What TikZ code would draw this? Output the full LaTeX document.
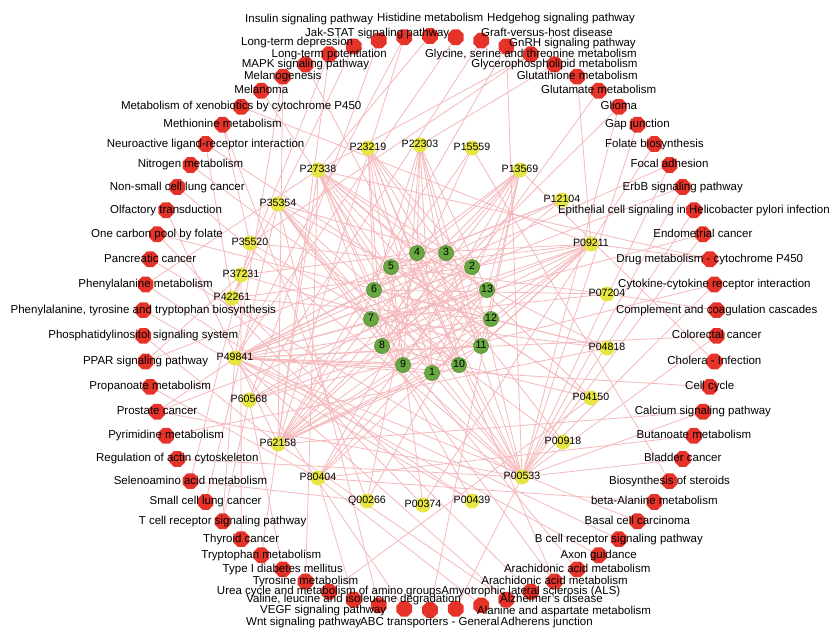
\documentclass[tikz,border=0pt]{standalone}
\usepackage{fontspec}
\setmainfont{Liberation Sans}
\usetikzlibrary{shapes.geometric}
\definecolor{nodered}{HTML}{E6332A}
\definecolor{nodeyellow}{HTML}{E6E642}
\definecolor{nodegreen}{HTML}{68A841}
\definecolor{greenborder}{HTML}{4F8C30}
\definecolor{edgepink}{HTML}{F5B9BC}
\begin{document}
\begin{tikzpicture}[x=1pt,y=-1pt,
  redn/.style={regular polygon, regular polygon sides=8, fill=nodered, draw=none, minimum size=17pt, inner sep=0pt},
  yel/.style={circle, fill=nodeyellow, draw=none, minimum size=15pt, inner sep=0pt},
  grn/.style={circle, fill=nodegreen, draw=greenborder, line width=0.6pt, minimum size=15pt, inner sep=0pt},
  lbl/.style={font=\fontsize{11.5}{12}\selectfont, inner sep=0pt, text height=8pt, text depth=2pt, text=black},
  plbl/.style={font=\fontsize{10.6}{12}\selectfont, inner sep=0pt, text height=7.6pt, text depth=2pt, text=black},
  lnk/.style={draw=edgepink, line width=0.8pt}]
\useasboundingbox[fill=white] (0,0) rectangle (840,635);

% outer ring coordinates
\foreach \i in {1,...,70}{
  \pgfmathsetmacro\angl{-90+(\i-1)*(360/70)}
  \coordinate (r\i) at ({430+287*cos(\angl)},{323-287*sin(\angl)});
}
% middle ring
\foreach \n/\x/\y in {P00374/423/505, P00439/472/501, P00533/522/477, P00918/563/442, P04150/591/398,
  P04818/607/348, P07204/607/294, P09211/591/244, P12104/562/200, P13569/520/170, P15559/472/148,
  P22303/420/145, P23219/368/148, P27338/318/170, P35354/278/204, P35520/250/243, P37231/241/275,
  P42261/232/298, P49841/235/358, P60568/249/400, P62158/278/444, P80404/318/478, Q00266/367/501}{
  \coordinate (\n) at (\x,\y);
}
% inner ring
\foreach \n/\x/\y in {1/432/373, 2/472/267, 3/446/253, 4/417/253, 5/391/267, 6/374/290, 7/371/319,
  8/382/346, 9/403/365, 10/459/365, 11/481/346, 12/491/319, 13/487/290}{
  \coordinate (g\n) at (\x,\y);
}

% connectors: inner to middle
\foreach \a/\b in {g1/P27338, g1/P22303, g1/P09211, g1/P49841, g1/P62158, g1/P13569, g1/P23219, g1/P35354,
  g2/P27338, g2/P49841, g2/P62158, g2/P00533, g2/P35520, g2/P60568, g2/P42261,
  g3/P22303, g3/P23219, g3/P62158, g3/P00533, g3/P80404, g3/P49841, g3/P04150,
  g4/P09211, g4/P00918, g4/P04818, g4/P00533, g4/Q00266, g4/P37231,
  g5/P09211, g5/P07204, g5/P04150, g5/P12104, g5/P00374, g5/P13569, g5/P15559,
  g6/P13569, g6/P04818, g6/P12104, g6/P00533, g6/P07204, g6/P23219, g6/P22303,
  g7/P13569, g7/P09211, g7/P07204, g7/P04818, g7/P27338, g7/P00439,
  g8/P22303, g8/P09211, g8/P13569, g8/P04150, g8/P12104, g8/P15559, g8/P23219,
  g9/P27338, g9/P22303, g9/P23219, g9/P13569, g9/P09211, g9/P35354,
  g10/P27338, g10/P22303, g10/P35354, g10/P49841, g10/P35520, g10/P62158, g10/P23219,
  g11/P27338, g11/P23219, g11/P22303, g11/P49841, g11/P62158, g11/P37231,
  g12/P49841, g12/P62158, g12/P27338, g12/P60568, g12/P35354, g12/P42261, g12/P80404,
  g13/P62158, g13/P49841, g13/P80404, g13/P22303, g13/P27338, g13/Q00266, g13/P60568,
  g1/P00533, g2/P09211, g3/P13569, g4/P27338, g5/P62158, g6/P49841, g7/P62158, g8/P00533,
  g9/P49841, g10/P09211, g11/P13569, g12/P09211, g13/P13569, g2/P23219, g3/P35354, g6/P27338,
  g9/P62158, g11/P09211, g4/P22303, g5/P49841}{
  \draw[lnk] (\a) -- (\b);
}
% connectors: outer to middle
\foreach \a/\b in {r1/P13569, r2/P00533, r3/P80404, r4/P49841, r4/P62158, r5/P42261, r6/P23219, r6/P35354,
  r7/P35354, r8/P49841, r9/P49841, r10/P49841, r11/P80404, r12/P15559, r13/P00533, r14/P80404,
  r15/P00533, r15/P62158, r16/P49841, r17/P13569, r18/P00533, r18/P49841, r19/P07204, r20/P00533,
  r20/P60568, r21/P09211, r21/P27338, r22/P00533, r22/P49841, r23/P00533, r24/P00533, r24/P49841,
  r25/P00533, r25/P49841, r26/P00374, r27/P00533, r28/P00533, r28/P62158, r29/P80404, r30/P09211,
  r31/P22303, r32/P27338, r32/P35520, r33/P00533, r33/P62158, r34/P60568, r35/P49841, r36/P27338,
  r37/P49841, r37/P62158, r38/P60568, r39/P42261, r40/P42261, r40/P62158, r41/P00533, r42/P62158,
  r42/P49841, r43/P00533, r44/P09211, r45/P35520, r45/Q00266, r46/P42261, r46/P04150, r47/P00918,
  r48/P00533, r49/P62158, r50/P00374, r50/P04818, r51/P00533, r52/P27338, r52/P00439, r53/P00439,
  r54/P62158, r55/P12104, r55/P37231, r56/P80404, r57/P00533, r57/P49841, r57/P09211, r58/P04818,
  r59/P00533, r60/P35520, r60/Q00266, r61/P35354, r62/P49841, r62/P60568, r63/P37231, r64/P27338,
  r65/P60568, r66/P27338, r67/P04150, r68/P80404, r69/P35354, r70/P49841}{
  \draw[lnk] (\a) -- (\b);
}

% nodes
\foreach \i in {1,...,70}{ \node[redn] (n\i) at (r\i) {}; }
\foreach \n in {P00374, P00439, P00533, P00918, P04150, P04818, P07204, P09211, P12104, P13569, P15559,
  P22303, P23219, P27338, P35354, P35520, P37231, P42261, P49841, P60568, P62158, P80404, Q00266}{
  \node[yel] (y\n) at (\n) {};
  \node[plbl] at (\n) {\n};
}
\foreach \n in {1,...,13}{ \node[grn] (gn\n) at (g\n) {}; \node[plbl] at (g\n) {\n}; }

% outer labels centred on their nodes
\foreach \i/\t in {5/{Amyotrophic lateral sclerosis (ALS)}, 6/{Arachidonic acid metabolism},
  7/{Arachidonic acid metabolism}, 8/{Axon guidance}, 9/{B cell receptor signaling pathway},
  10/{Basal cell carcinoma}, 11/{beta-Alanine metabolism}, 12/{Biosynthesis of steroids},
  13/{Bladder cancer}, 14/{Butanoate metabolism}, 15/{Calcium signaling pathway}, 16/{Cell cycle},
  17/{Cholera - Infection}, 18/{Colorectal cancer}, 19/{Complement and coagulation cascades},
  20/{Cytokine-cytokine receptor interaction}, 21/{Drug metabolism - cytochrome P450},
  22/{Endometrial cancer}, 23/{Epithelial cell signaling in Helicobacter pylori infection},
  24/{ErbB signaling pathway}, 25/{Focal adhesion}, 26/{Folate biosynthesis}, 27/{Gap junction},
  28/{Glioma}, 29/{Glutamate metabolism}, 30/{Glutathione metabolism},
  31/{Glycerophospholipid metabolism}, 32/{Glycine, serine and threonine metabolism},
  40/{Long-term potentiation}, 41/{MAPK signaling pathway}, 42/{Melanogenesis}, 43/{Melanoma},
  44/{Metabolism of xenobiotics by cytochrome P450}, 45/{Methionine metabolism},
  46/{Neuroactive ligand-receptor interaction}, 47/{Nitrogen metabolism},
  48/{Non-small cell lung cancer}, 49/{Olfactory transduction}, 50/{One carbon pool by folate},
  51/{Pancreatic cancer}, 52/{Phenylalanine metabolism},
  53/{Phenylalanine, tyrosine and tryptophan biosynthesis}, 54/{Phosphatidylinositol signaling system},
  55/{PPAR signaling pathway}, 56/{Propanoate metabolism}, 57/{Prostate cancer},
  58/{Pyrimidine metabolism}, 59/{Regulation of actin cytoskeleton}, 60/{Selenoamino acid metabolism},
  61/{Small cell lung cancer}, 62/{T cell receptor signaling pathway}, 63/{Thyroid cancer},
  64/{Tryptophan metabolism}, 65/{Type I diabetes mellitus}, 66/{Tyrosine metabolism},
  67/{Urea cycle and metabolism of amino groups}, 68/{Valine, leucine and isoleucine degradation}}{
  \node[lbl] at (r\i) {\t};
}
% outer labels moved off their nodes
\node[lbl, anchor=west] (t1) at (360,622) {ABC transporters - General};
\node[lbl, anchor=east] (t2) at (593,622) {Adherens junction};
\node[lbl, anchor=west] (t3) at (477,611) {Alanine and aspartate metabolism};
\node[lbl, anchor=west] (t4) at (500,599) {Alzheimer's disease};
\node[lbl, anchor=west] (t33) at (509,43) {GnRH signaling pathway};
\node[lbl, anchor=west] (t34) at (481,33) {Graft-versus-host disease};
\node[lbl, anchor=west] (t35) at (487,18) {Hedgehog signaling pathway};
\node[lbl, anchor=west] (t36) at (377,18) {Histidine metabolism};
\node[lbl, anchor=west] (t37) at (245,19) {Insulin signaling pathway};
\node[lbl, anchor=west] (t38) at (305,33) {Jak-STAT signaling pathway};
\node[lbl, anchor=west] (t39) at (241,42) {Long-term depression};
\node[lbl, anchor=west] (t69) at (260,610) {VEGF signaling pathway};
\node[lbl, anchor=west] (t70) at (246,622) {Wnt signaling pathway};
\end{tikzpicture}
\end{document}
